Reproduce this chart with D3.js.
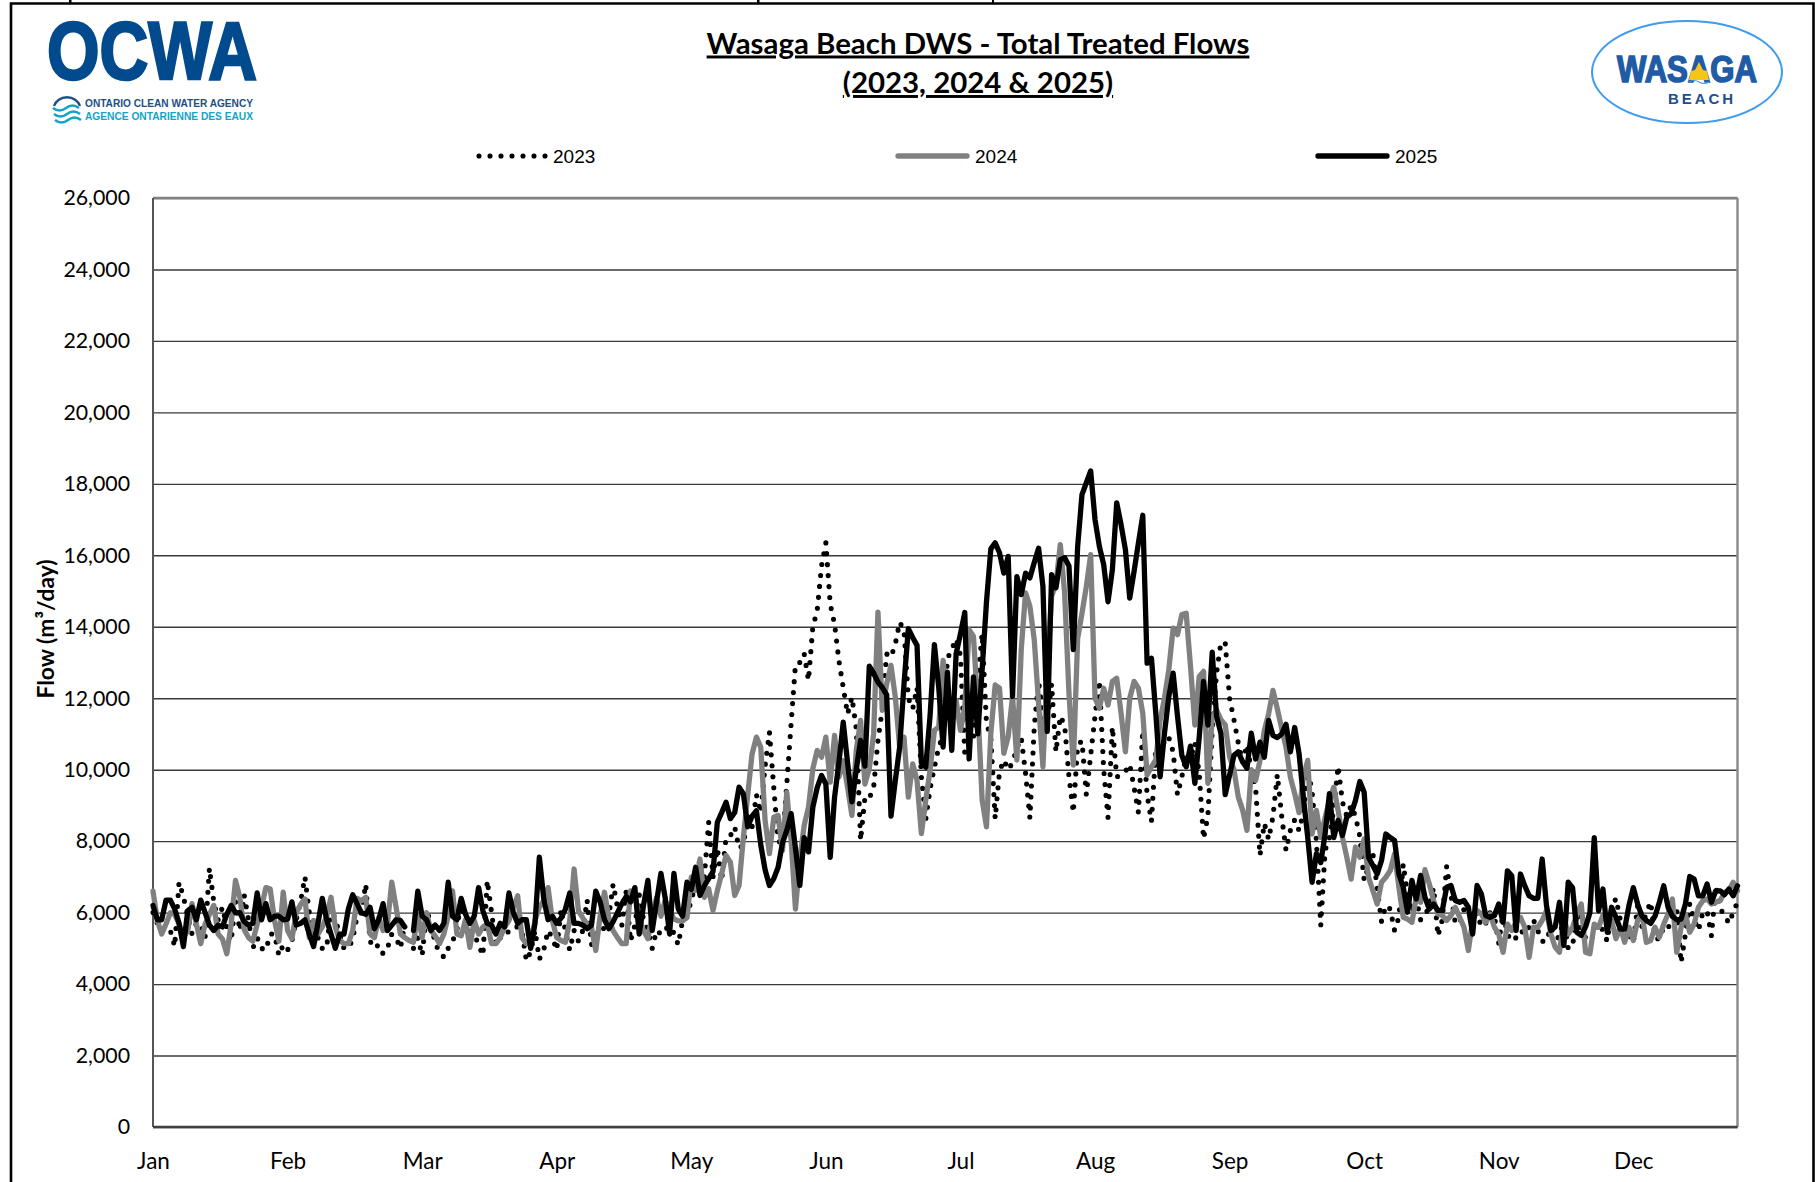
<!DOCTYPE html>
<html><head><meta charset="utf-8">
<script src="https://cdn.jsdelivr.net/npm/d3@7"></script>
<style>html,body{margin:0;padding:0;background:#fff}svg{display:block}</style>
</head><body><svg id="c" width="1815" height="1182"></svg>
<script>
const months=["Jan","Feb","Mar","Apr","May","Jun","Jul","Aug","Sep","Oct","Nov","Dec"];
const yTicks=[0,2000,4000,6000,8000,10000,12000,14000,16000,18000,20000,22000,24000,26000];
const seriesNames=["2023","2024","2025"];
const flow2023=[
6000,5700,5500,5600,5500,5050,6850,6450,5900,5400,
5700,5700,5300,7250,6300,5800,6150,5600,5200,6300,
5500,6500,5800,5000,5300,5000,4950,5400,5400,4800,
5100,4950,5200,5800,6300,7000,6000,5250,5300,5000,
5000,6150,5800,5400,5000,5000,5250,5900,6000,6800,
5200,5000,5100,4850,5000,5400,5300,5000,5700,null,
5000,5300,4800,6000,5800,5100,4950,4750,5000,5200,
5500,6400,5600,5500,5400,5100,4800,6900,6000,5100,
5300,5300,5500,5600,5600,5500,4650,4900,5500,4700,
4950,5500,5300,4950,6100,5500,4950,5500,5200,5500,
6350,5100,5400,5400,5600,5900,6800,6150,5650,6600,
5200,5650,6500,5800,5500,5000,5500,5400,5450,5800,
5400,5100,5800,6000,6300,6900,7500,7000,8530,7000,
7800,6900,8100,8150,8400,7800,7900,8700,8400,9300,
8800,10100,11050,9500,8000,7950,9600,11300,12950,13000,
13250,12500,14000,14450,15700,16350,14640,14080,13060,12300,
11560,12030,11150,8020,9230,9200,9500,10820,11700,13240,
13150,13520,14130,13900,12000,11700,12300,9800,8600,9460,
10070,10630,10960,13100,13380,13660,13200,10440,10630,10900,
12500,13800,11300,10900,8630,9950,10270,10000,10200,10600,
10900,9900,8650,11200,12480,11500,11300,12400,10500,11500,
11250,9800,8800,10700,10800,9300,10400,11500,12500,10000,
8650,11200,9800,9850,9950,10150,9500,8800,11100,9300,
8550,10600,10000,10900,10900,10500,9300,9800,10400,10300,
10750,9900,8070,8700,11100,12700,13560,13550,12000,11400,
10750,10200,10700,10000,9500,7600,8500,8050,8700,9870,
8700,7740,8300,8600,8300,8800,10000,9400,8000,5640,
7740,8100,8900,10100,9100,8700,9000,8700,8130,6900,
7300,7660,6700,5750,6200,6100,5500,5870,7360,6500,
6000,6400,5800,5900,6200,6700,5350,5800,7300,6500,
5700,5700,6100,6000,5800,6000,5600,5700,6000,5900,
5150,6000,5400,5200,5300,5500,5400,5600,5800,5500,
5200,5200,5600,5300,5300,5900,5000,5050,6000,5500,
5300,5200,5400,5700,5500,5200,6100,6400,5800,5700,
5400,5150,6200,5600,6000,6300,5300,5250,5600,5550,
5900,6100,4600,5400,6250,5800,5500,6000,6050,5350,
6750,6100,5950,5700,6000,6300];
const flow2024=[
6600,5780,5400,5680,6000,5950,5680,5300,5500,6250,
5680,5130,5680,5950,6200,5400,5260,4850,5680,6900,
6430,5530,5300,5200,5680,6150,6700,6660,5780,5200,
6570,5500,5270,6000,6230,6380,5300,5780,5400,5600,
5900,6430,5600,5220,5130,5130,5500,6400,6330,6430,
5400,5300,5860,5500,5680,6850,6150,5400,5300,5220,
5170,5950,5300,6000,5500,5350,5130,5400,5900,6610,
5400,5350,5800,5030,5780,5400,5600,5680,5130,5130,
5300,5600,5780,6150,6470,5300,5130,5130,5780,6150,
6330,6700,5780,5300,5220,5170,5780,7220,6050,5850,
5680,5590,4940,5900,6570,5850,5490,5300,5130,5130,
6610,6510,5860,5490,5270,5950,6420,5900,6350,6050,
5820,5770,5770,5860,6990,6620,7500,6430,6670,6060,
6620,7090,7600,7410,6480,6760,8110,9300,10440,10910,
10630,8580,7650,8670,8720,7740,9370,8020,6100,7500,
8440,8950,10030,10540,10350,10910,9650,10960,9790,10250,
9510,8720,10540,11380,9600,10030,11000,14410,11660,12400,
12920,12030,10630,10910,9230,10160,9700,8210,9140,9980,
11100,11190,13060,11570,11750,11940,11100,11750,13920,13730,
11770,9150,8400,11020,12370,12280,10460,10930,12050,10270,
13360,14950,14570,13640,11860,10080,12800,14850,15200,16300,
14950,12140,10130,13680,14380,15130,16020,12000,11720,12280,
11810,12470,12560,11580,10500,12000,12470,12280,11580,9850,
10080,10270,11390,12000,12800,13960,13780,14340,14380,12890,
11250,12610,12750,9620,11490,11670,11400,11250,10360,10000,
9240,8870,8300,10000,9700,10260,11100,11570,12220,11700,
11150,10630,9790,9330,8800,9790,10260,8200,8860,8110,
8660,9140,9510,8860,8110,7550,6940,7830,7550,8060,
6990,6620,6240,6850,6990,7180,7640,6710,5870,5820,
5730,6430,6290,7200,6800,6340,5960,5920,5780,5920,
6150,5870,5590,4940,5780,6060,5960,5730,5960,5590,
5400,4890,5680,5500,5730,5870,5590,4750,5590,5590,
5780,6060,5400,5030,4890,5870,5400,5590,5960,6240,
4890,4850,5680,5590,5920,5780,5780,5270,5590,5170,
5590,5220,5780,5960,5170,5220,5590,5310,5680,5960,
6380,4890,5590,5960,5450,5680,6150,6330,6380,6240,
6290,6330,6570,6610,6850,6610];
const flow2025=[
6200,5800,5800,6350,6350,6100,5700,5050,6050,6150,
5800,6350,6000,5650,5500,5650,5600,5950,6200,6000,
6000,5750,5650,5700,6550,5800,6250,5800,5900,5900,
5800,5820,6300,5650,5700,5800,5400,5050,5700,6400,
5800,5400,5000,5400,5400,6100,6500,6250,6000,5950,
6150,5550,5800,6250,5500,5650,5800,5780,5600,null,
5500,6600,5900,5800,5500,5650,5500,5700,6850,5900,
5800,6400,5950,5700,5900,6700,6050,5700,5650,5400,
5700,5600,6550,6000,5700,5800,5800,5000,5700,7550,
6400,5800,5900,5700,5850,6100,6550,5700,5700,5650,
5550,5650,6600,6300,5800,5550,5750,6000,6250,6450,
6300,6700,5400,6200,6900,5500,6300,7100,6400,5400,
7100,6100,5900,6850,6650,7270,6480,6750,6950,7150,
8530,8800,9090,8630,8800,9510,9320,8400,8700,8850,
7900,7200,6760,6950,7270,7950,8300,8770,7800,6760,
8100,7700,8950,9500,9840,9600,7550,9230,10200,11330,
10200,9100,10000,10820,10100,12900,12700,12450,12300,12100,
8700,9700,10630,12400,13950,13700,13480,10200,10070,11500,
13500,12300,10630,12730,10540,13240,13800,14400,10300,12600,
11000,12800,14700,16180,16350,16070,15500,15970,12050,15400,
14900,15500,15370,15800,16200,15130,11070,15460,15090,15880,
15930,15700,13360,16250,17700,18030,18360,17000,16250,15740,
14700,15600,17470,16860,16160,14800,15550,16350,17120,12980,
13120,11580,9800,11020,12050,12700,11500,10400,10080,10660,
9620,10900,12470,11250,13290,11490,11020,9300,9850,10400,
10500,10220,10040,11020,10300,10770,10350,11380,10960,10900,
11000,11270,10500,11180,10450,9230,8100,6850,7650,7400,
8200,9330,8100,8580,8160,8670,8770,9140,9670,9370,
7550,7320,7080,7460,8200,8100,8020,7080,6710,6010,
6900,6380,7040,6430,6100,6240,6060,6060,6710,6760,
6340,6290,6340,6150,5400,6760,6520,5920,5870,5920,
6240,5730,7170,7030,5500,7080,6750,6470,6400,6400,
7500,6200,5500,5600,6290,5080,6850,6700,5450,5360,
5600,6000,8100,6050,6660,5450,6150,5870,5540,5540,
6200,6700,6240,5900,5780,5700,5900,6290,6750,6150,
5900,5800,5820,6240,7010,6940,6470,6470,6800,6290,
6610,6610,6500,6660,6470,6750];

const svg=d3.select("#c");
const L=153,R=1737.5,T=198,B=1127;
const x=d3.scaleLinear().domain([0,365]).range([L,R]);
const y=d3.scaleLinear().domain([0,26000]).range([B,T]);
const bodyFont="Lato, sans-serif";

// page frame
svg.append("path").attr("d","M11,1182V3.5H1813.5V1182").attr("fill","none").attr("stroke","#000").attr("stroke-width",2.6);
svg.append("rect").attr("x",69).attr("y",0).attr("width",2.5).attr("height",3).attr("fill","#000");
svg.append("rect").attr("x",757).attr("y",0).attr("width",2.5).attr("height",3).attr("fill","#000");
svg.append("rect").attr("x",992).attr("y",0).attr("width",2).attr("height",3).attr("fill","#000");

// gridlines and axes
const yAxis=d3.axisLeft(y).tickValues(yTicks).tickFormat(d3.format(",")).tickSize(-(R-L)).tickPadding(23);
const gy=svg.append("g").attr("transform",`translate(${L},0)`).call(yAxis);
gy.select(".domain").remove();
gy.selectAll("line").attr("stroke","#3a3a3a").attr("stroke-width",1.4);
gy.selectAll("text").attr("font-family",bodyFont).attr("font-size",21.3).attr("fill","#000");
const xAxis=d3.axisBottom(x).tickValues(months.map((m,i)=>i*31)).tickFormat((d,i)=>months[i]).tickSize(0).tickPadding(26);
const gx=svg.append("g").attr("transform",`translate(0,${B})`).call(xAxis);
gx.select(".domain").remove();
gx.selectAll("text").attr("font-family",bodyFont).attr("font-size",22.5).attr("fill","#000");

// plot border
svg.append("line").attr("x1",L).attr("x2",R).attr("y1",T).attr("y2",T).attr("stroke","#808080").attr("stroke-width",2.6);
svg.append("line").attr("x1",R).attr("x2",R).attr("y1",T).attr("y2",B).attr("stroke","#8a8a8a").attr("stroke-width",2.4);
svg.append("line").attr("x1",L).attr("x2",L).attr("y1",T).attr("y2",B).attr("stroke","#555").attr("stroke-width",2);
svg.append("line").attr("x1",L).attr("x2",R).attr("y1",B).attr("y2",B).attr("stroke","#404040").attr("stroke-width",2.6);

// series
const line=d3.line().defined(d=>d!==null).x((d,i)=>x(i)).y(d=>y(d));
const styles=[
 {data:flow2023,color:"#000",w:5.1,dash:"0 11"},
 {data:flow2024,color:"#808080",w:5.3,dash:null},
 {data:flow2025,color:"#000",w:5.3,dash:null}];
styles.forEach(s=>{
  svg.append("path").datum(s.data).attr("d",line).attr("fill","none")
    .attr("stroke",s.color).attr("stroke-width",s.w)
    .attr("stroke-linejoin","round").attr("stroke-linecap","round")
    .attr("stroke-dasharray",s.dash);
});

// legend
const legendX=[479,898,1318];
seriesNames.forEach((n,i)=>{
  const s=styles[i];
  svg.append("line").attr("x1",legendX[i]).attr("x2",legendX[i]+69).attr("y1",156).attr("y2",156)
    .attr("stroke",s.color).attr("stroke-width",s.w).attr("stroke-linecap","round").attr("stroke-dasharray",s.dash);
  svg.append("text").attr("x",legendX[0]===legendX[i]?553:legendX[i]+77).attr("y",162.5).text(n)
    .attr("font-family","'Liberation Sans',Arial,sans-serif").attr("font-size",19).attr("fill","#000");
});

// titles
["Wasaga Beach DWS - Total Treated Flows","(2023, 2024 & 2025)"].forEach((t,i)=>{
  svg.append("text").attr("x",978).attr("y",53.5+i*39.5).attr("text-anchor","middle").text(t)
    .attr("font-family",bodyFont).attr("font-weight",700).attr("font-size",29.4)
    .attr("text-decoration","underline").style("text-decoration-thickness","3px").attr("fill","#000");
});
const yt=svg.append("text").attr("transform","translate(54,629) rotate(-90)").attr("text-anchor","middle")
  .attr("font-family",bodyFont).attr("font-weight",700).attr("font-size",22.8).attr("fill","#000");
yt.text("Flow (m³/day)");

// OCWA logo
const ocwa=svg.append("g");
ocwa.append("text").attr("x",47).attr("y",79).text("OCWA").attr("font-family","'Liberation Sans',Arial,sans-serif")
  .attr("font-weight",700).attr("font-size",82).attr("textLength",210).attr("lengthAdjust","spacingAndGlyphs")
  .attr("fill","#004a8d").attr("stroke","#004a8d").attr("stroke-width",2.6);
ocwa.append("text").attr("x",85).attr("y",107).text("ONTARIO CLEAN WATER AGENCY").attr("font-family","'Liberation Sans',Arial,sans-serif")
  .attr("font-weight",700).attr("font-size",11.5).attr("textLength",168).attr("lengthAdjust","spacingAndGlyphs").attr("fill","#1d4f86");
ocwa.append("text").attr("x",85).attr("y",120).text("AGENCE ONTARIENNE DES EAUX").attr("font-family","'Liberation Sans',Arial,sans-serif")
  .attr("font-weight",700).attr("font-size",11.5).attr("textLength",168).attr("lengthAdjust","spacingAndGlyphs").attr("fill","#14a3c7");
ocwa.append("path").attr("d","M54,106 A13.5,12 0 0 1 80,106").attr("fill","none").attr("stroke","#1d4f86").attr("stroke-width",2.4);
[108,114,120].forEach((yy,i)=>{
  ocwa.append("path").attr("d",`M${53+i},${yy} q6.5,5 13,0 q6.5,-5 13,0`).attr("fill","none").attr("stroke","#14a3c7").attr("stroke-width",2.6);
});

// Wasaga Beach logo
const wb=svg.append("g");
wb.append("ellipse").attr("cx",1687).attr("cy",72).attr("rx",95).attr("ry",51).attr("fill","none").attr("stroke","#3d9bf0").attr("stroke-width",2);
wb.append("text").attr("x",1617).attr("y",82).text("WASAGA").attr("font-family","'Liberation Sans',Arial,sans-serif")
  .attr("font-weight",700).attr("font-size",36).attr("textLength",140).attr("lengthAdjust","spacingAndGlyphs")
  .attr("fill","#1f5ba6").attr("stroke","#1f5ba6").attr("stroke-width",1.6);
wb.append("path").attr("d","M1689,80 L1691,71 L1695,70 L1699,62 L1703,70 L1707,71 L1709,80 Z").attr("fill","#f5c518");
wb.append("path").attr("d","M1689,82 q5,-3 10,0 q5,3 10,0").attr("fill","none").attr("stroke","#3d9bf0").attr("stroke-width",1.2);
wb.append("text").attr("x",1668).attr("y",104).text("BEACH").attr("font-family","'Liberation Sans',Arial,sans-serif")
  .attr("font-weight",700).attr("font-size",15).attr("textLength",65).attr("fill","#1d4f8c");
</script></body></html>
